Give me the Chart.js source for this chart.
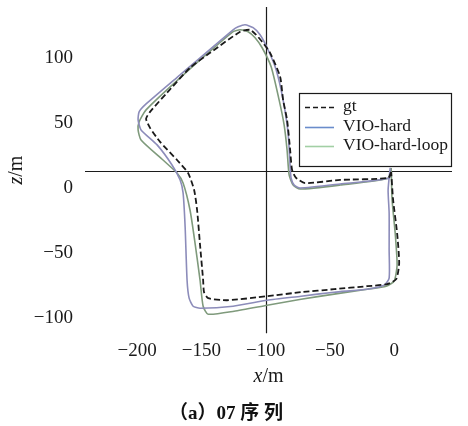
<!DOCTYPE html>
<html>
<head>
<meta charset="utf-8">
<script src="https://cdn.jsdelivr.net/npm/chart.js@4"></script>
<style>
html, body { margin: 0; padding: 0; background: #fff; }
</style>
</head>
<body>
<canvas id="trajChart" width="468" height="426"></canvas>
<script>
// ground truth trajectory (x, z in metres)
var gtX = [-2.3, -4.7, -42.0, -69.3, -76.3, -79.4, -80.9, -83.3, -86.4, -88.7, -96.5, -102.7, -107.4, -112.1, -119.8, -143.2, -158.8, -176.7, -189.9, -193.0, -189.9, -182.1, -168.9, -160.3, -155.6, -153.3, -151.0, -148.6, -147.9, -144.7, -130.0, -98.8, -72.4, -46.7, -21.0, -5.4, 1.6, 3.9, 2.3, -0.8, -2.3];
var gtZ = [12.3, 7.7, 6.2, 3.8, 7.7, 13.8, 29.2, 52.3, 67.7, 85.4, 103.8, 112.3, 117.7, 121.5, 120.0, 103.8, 92.3, 73.1, 58.5, 53.1, 46.2, 35.4, 21.5, 11.5, -1.5, -16.9, -43.8, -70.8, -80.0, -84.6, -86.2, -83.1, -80.0, -77.7, -75.4, -73.8, -70.0, -57.7, -34.6, -9.2, 12.3];

// VIO-hard
var hardX = [-3.1, -3.9, -42.0, -73.2, -77.8, -80.2, -80.9, -82.5, -86.4, -91.8, -98.1, -104.3, -109.7, -116.0, -121.4, -125.3, -166.5, -193.8, -198.4, -199.2, -196.9, -184.4, -172.8, -166.5, -164.2, -162.6, -161.1, -159.5, -156.4, -151.0, -125.3, -98.8, -72.4, -46.7, -21.0, -7.8, -3.9, -3.9, -3.9, -4.7, -3.1];
var hardZ = [15.4, 7.7, 3.1, 0.0, 2.3, 7.7, 16.2, 42.3, 67.7, 90.8, 106.2, 117.7, 123.1, 125.4, 123.8, 121.5, 86.9, 63.8, 58.5, 52.3, 44.6, 33.1, 17.7, 6.2, -3.8, -30.0, -70.8, -84.6, -90.8, -92.3, -90.8, -86.2, -83.1, -80.0, -77.7, -74.6, -69.2, -47.7, -19.2, -1.5, 15.4];

// VIO-hard-loop
var loopX = [-2.3, -3.9, -42.0, -73.2, -78.6, -81.7, -83.3, -85.6, -89.5, -95.7, -102.7, -108.2, -113.6, -119.8, -125.3, -166.5, -193.0, -198.4, -199.2, -196.9, -179.8, -168.9, -164.2, -158.8, -154.9, -151.0, -148.6, -144.7, -124.5, -98.8, -72.4, -46.7, -21.0, -6.2, 0.0, 2.3, 0.8, -1.6, -2.3];
var loopZ = [15.4, 7.7, 2.3, -0.8, 2.3, 10.0, 29.2, 48.5, 67.7, 93.1, 107.7, 115.4, 120.0, 121.5, 120.0, 84.6, 60.0, 50.8, 44.6, 36.9, 21.5, 11.5, 3.8, -16.9, -42.3, -70.8, -90.8, -96.9, -94.6, -90.0, -85.4, -81.5, -77.7, -75.4, -71.5, -59.2, -34.6, -9.2, 15.4];

var seriesNames = ["gt", "VIO-hard", "VIO-hard-loop"];
var xTicks = [-200, -150, -100, -50, 0];
var zTicks = [-100, -50, 0, 50, 100];

// reference axes drawn through the plot
var CROSS_X = -100;
var CROSS_Z = 13;

var SERIF = "'Liberation Serif', 'Times New Roman', serif";

function toPoints(xs, zs) {
    return xs.map(function(x, i) { return { x: x, y: zs[i] }; });
}

function minusSign(v) {
    return String(v).replace("-", "\u2212");
}

// draws "x/m" style labels with the first letter in italic
function drawUnitLabel(ctx, letter, rest, cx, cy, size) {
    var italic = "italic " + size + "px " + SERIF;
    var upright = size + "px " + SERIF;
    ctx.font = italic;
    var w1 = ctx.measureText(letter).width;
    ctx.font = upright;
    var w2 = ctx.measureText(rest).width;
    var x0 = cx - (w1 + w2) / 2;
    ctx.textAlign = "left";
    ctx.textBaseline = "middle";
    ctx.font = italic;
    ctx.fillText(letter, x0, cy);
    ctx.font = upright;
    ctx.fillText(rest, x0 + w1, cy);
}

// no extra room for the outer tick labels, the plot box is fixed
function noLabelPadding(scale) {
    scale.paddingTop = 0;
    scale.paddingBottom = 0;
    scale.paddingLeft = 0;
    scale.paddingRight = 0;
}

var overlayPlugin = {
    id: "overlay",
    beforeDatasetsDraw: function(chart) {
        var ctx = chart.ctx;
        var area = chart.chartArea;
        var px = chart.scales.x.getPixelForValue(CROSS_X);
        var py = chart.scales.y.getPixelForValue(CROSS_Z);
        ctx.save();
        ctx.strokeStyle = "#1c1c1c";
        ctx.lineWidth = 1.2;
        ctx.beginPath();
        ctx.moveTo(Math.round(px) + 0.5, area.top);
        ctx.lineTo(Math.round(px) + 0.5, area.bottom);
        ctx.moveTo(area.left, Math.round(py) + 0.5);
        ctx.lineTo(area.right, Math.round(py) + 0.5);
        ctx.stroke();
        ctx.restore();
    },
    afterDraw: function(chart) {
        var ctx = chart.ctx;
        var area = chart.chartArea;
        ctx.save();
        ctx.fillStyle = "#1a1a1a";

        // axis titles
        drawUnitLabel(ctx, "x", "/m", (area.left + area.right) / 2, 377, 20);
        ctx.save();
        ctx.translate(17, (area.top + area.bottom) / 2);
        ctx.rotate(-Math.PI / 2);
        drawUnitLabel(ctx, "z", "/m", 0, 0, 20);
        ctx.restore();

        // legend box
        var box = { left: 299.5, top: 93.5, right: 451.5, bottom: 166.5 };
        ctx.fillStyle = "#fff";
        ctx.fillRect(box.left, box.top, box.right - box.left, box.bottom - box.top);
        ctx.strokeStyle = "#1a1a1a";
        ctx.lineWidth = 1.2;
        ctx.strokeRect(box.left, box.top, box.right - box.left, box.bottom - box.top);

        var rows = [107, 127, 146];
        var legendColors = ["#1a1a1a", "#6a8ccb", "#a2cfa4"];
        ctx.font = "17.5px " + SERIF;
        ctx.textAlign = "left";
        ctx.textBaseline = "middle";
        rows.forEach(function(y, i) {
            ctx.beginPath();
            ctx.strokeStyle = legendColors[i];
            ctx.lineWidth = 1.6;
            ctx.setLineDash(i === 0 ? [5, 3] : []);
            ctx.moveTo(305, y + 0.5);
            ctx.lineTo(334, y + 0.5);
            ctx.stroke();
            ctx.setLineDash([]);
            ctx.fillStyle = "#1a1a1a";
            ctx.fillText(seriesNames[i], 343, y - 1);
        });
        ctx.restore();
    }
};

new Chart(document.getElementById("trajChart"), {
    type: "scatter",
    data: {
        datasets: [
            {
                label: seriesNames[0],
                data: toPoints(gtX, gtZ),
                showLine: true,
                borderColor: "#1a1a1a",
                borderWidth: 1.8,
                borderDash: [6, 3],
                pointRadius: 0,
                tension: 0.2
            },
            {
                label: seriesNames[1],
                data: toPoints(hardX, hardZ),
                showLine: true,
                borderColor: "#8c8cba",
                borderWidth: 1.6,
                pointRadius: 0,
                tension: 0.2
            },
            {
                label: seriesNames[2],
                data: toPoints(loopX, loopZ),
                showLine: true,
                borderColor: "#7f9a7c",
                borderWidth: 1.6,
                pointRadius: 0,
                tension: 0.2
            }
        ]
    },
    options: {
        responsive: false,
        animation: false,
        layout: {
            padding: { top: 7, right: 16, bottom: 0, left: 0 }
        },
        plugins: {
            legend: { display: false },
            tooltip: { enabled: false },
            title: {
                display: true,
                position: "bottom",
                text: "\uff08a\uff0907 \u5e8f \u5217",
                color: "#111",
                font: { family: "'Liberation Serif', 'Noto Sans CJK SC', serif", size: 19, weight: "bold" },
                padding: { top: 0, bottom: 1 }
            }
        },
        scales: {
            x: {
                type: "linear",
                min: -240.5,
                max: 45,
                border: { display: false },
                grid: { display: false, drawTicks: false },
                afterBuildTicks: function(scale) {
                    scale.ticks = xTicks.map(function(v) { return { value: v }; });
                },
                afterFit: function(scale) {
                    scale.height = 69;
                    noLabelPadding(scale);
                },
                ticks: {
                    padding: 6,
                    color: "#1a1a1a",
                    font: { family: SERIF, size: 19 },
                    callback: function(v) { return minusSign(v); }
                }
            },
            y: {
                type: "linear",
                min: -111.5,
                max: 139,
                border: { display: false },
                grid: { display: false, drawTicks: false },
                afterBuildTicks: function(scale) {
                    scale.ticks = zTicks.map(function(v) { return { value: v }; });
                },
                afterFit: function(scale) {
                    scale.width = 85;
                    noLabelPadding(scale);
                },
                ticks: {
                    padding: 12,
                    color: "#1a1a1a",
                    font: { family: SERIF, size: 19 },
                    callback: function(v) { return minusSign(v); }
                }
            }
        }
    },
    plugins: [overlayPlugin]
});
</script>
</body>
</html>
